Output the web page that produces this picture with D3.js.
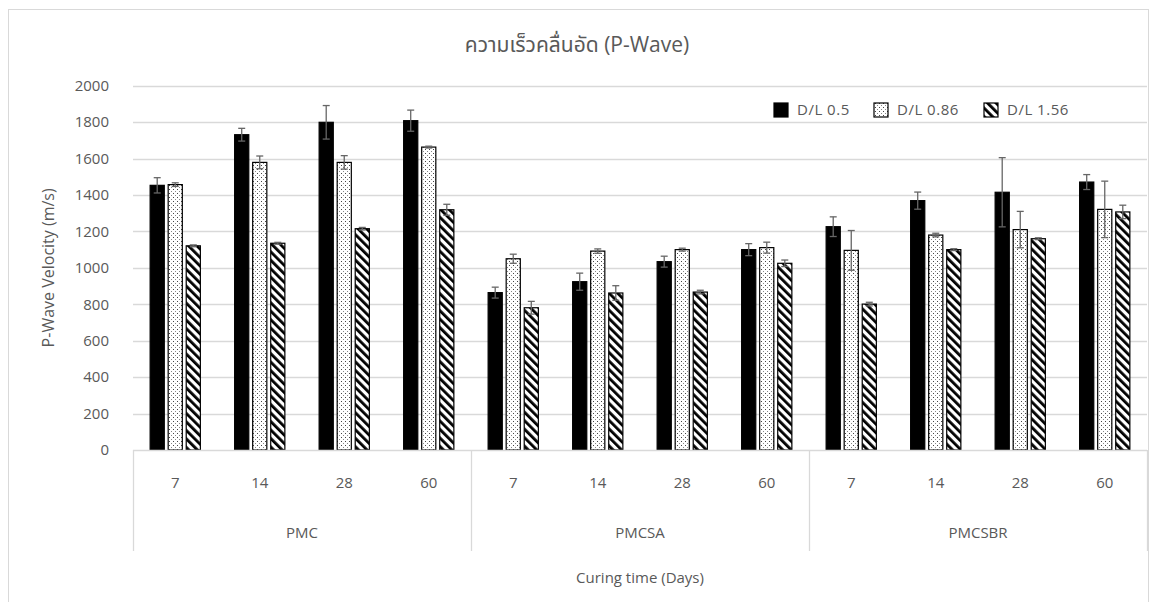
<!DOCTYPE html>
<html>
<head>
<meta charset="utf-8">
<script src="https://cdn.jsdelivr.net/npm/d3@7"></script>
<style>
  body { margin: 0; background: #fff; }
  text { font-family: "Open Sans", "Noto Sans", "Noto Sans Thai", sans-serif; fill: #595959; }
</style>
</head>
<body>
<svg id="chart" width="1155" height="602"></svg>
<script>
// data
const groups = ['PMC', 'PMCSA', 'PMCSBR'];
const days = ['7', '14', '28', '60'];
const seriesNames = ['D/L 0.5', 'D/L 0.86', 'D/L 1.56'];
const dl05    = [1453, 1731, 1799, 1808,  864,  924, 1034, 1100, 1226, 1369, 1415, 1471];
const dl05Err = [  42,   35,   92,   58,   30,   47,   30,   33,   54,   47,  190,   41];
const dl086    = [1457, 1579, 1579, 1663, 1050, 1092, 1100, 1111, 1096, 1180, 1210, 1321];
const dl086Err = [  10,   35,   37,    5,   25,   12,    8,   30,  109,   10,  100,  155];
const dl156    = [1121, 1135, 1215, 1319,  781,  862,  867, 1025,  801, 1100, 1160, 1307];
const dl156Err = [   5,    5,    7,   30,   35,   40,   10,   18,   10,    5,    5,   37];
const yTicks = [0, 200, 400, 600, 800, 1000, 1200, 1400, 1600, 1800, 2000];

const series = [
  {name: seriesNames[0], values: dl05, err: dl05Err, fill: '#000'},
  {name: seriesNames[1], values: dl086, err: dl086Err, fill: 'url(#dots)'},
  {name: seriesNames[2], values: dl156, err: dl156Err, fill: 'url(#hatch)'}
];

const cats = [];
groups.forEach((g) => days.forEach((d) => cats.push({key: g + '-' + d, group: g, day: d})));

const svg = d3.select('#chart');
const plotL = 133, plotR = 1147, plotT = 85.7, plotB = 450;

// patterns
const defs = svg.append('defs');
const dots = defs.append('pattern').attr('id', 'dots')
  .attr('patternUnits', 'userSpaceOnUse').attr('width', 4).attr('height', 4);
dots.append('rect').attr('width', 4).attr('height', 4).attr('fill', '#fff');
dots.append('rect').attr('x', 1).attr('y', 1).attr('width', 1).attr('height', 1).attr('fill', '#444');
dots.append('rect').attr('x', 3).attr('y', 3).attr('width', 1).attr('height', 1).attr('fill', '#888');

const hatch = defs.append('pattern').attr('id', 'hatch')
  .attr('patternUnits', 'userSpaceOnUse').attr('width', 6).attr('height', 6)
  .attr('patternTransform', 'rotate(-45)');
hatch.append('rect').attr('width', 6).attr('height', 6).attr('fill', '#fff');
hatch.append('rect').attr('width', 2.8).attr('height', 6).attr('fill', '#000');

// outer frame
svg.append('rect').attr('x', 8.5).attr('y', 9.5).attr('width', 1140).attr('height', 620)
  .attr('fill', 'none').attr('stroke', '#d9d9d9');

const x = d3.scaleBand().domain(cats.map(c => c.key)).range([plotL, plotR]);
const xs = d3.scaleBand().domain(seriesNames).range([0, x.bandwidth()])
  .paddingInner(0.216).paddingOuter(0.95);
const y = d3.scaleLinear().domain([0, 2000]).range([plotB, plotT]);

// gridlines
svg.append('g').selectAll('line').data(yTicks.slice(1)).join('line')
  .attr('x1', plotL).attr('x2', plotR)
  .attr('y1', d => Math.round(y(d)) + 0.5).attr('y2', d => Math.round(y(d)) + 0.5)
  .attr('stroke', '#d9d9d9').attr('stroke-width', 1.3);

// y axis labels
svg.append('g').selectAll('text').data(yTicks).join('text')
  .attr('x', 109).attr('y', d => y(d)).attr('dy', '0.35em')
  .attr('text-anchor', 'end').style('font-size', '15px').text(d => d);

// bars
series.forEach(s => {
  const g = svg.append('g');
  g.selectAll('rect').data(cats).join('rect')
    .attr('x', (c) => x(c.key) + xs(s.name))
    .attr('y', (c, i) => y(s.values[i]))
    .attr('width', xs.bandwidth())
    .attr('height', (c, i) => plotB - y(s.values[i]))
    .attr('fill', s.fill).attr('stroke', '#000').attr('stroke-width', 1.2);
  // error bars
  const eb = svg.append('g').attr('stroke', '#666').attr('stroke-width', 1.3);
  cats.forEach((c, i) => {
    const cx = x(c.key) + xs(s.name) + xs.bandwidth() / 2;
    const y1 = y(s.values[i] + s.err[i]), y2 = y(s.values[i] - s.err[i]);
    eb.append('line').attr('x1', cx).attr('x2', cx).attr('y1', y1).attr('y2', y2);
    eb.append('line').attr('x1', cx - 3.5).attr('x2', cx + 3.5).attr('y1', y1).attr('y2', y1);
    eb.append('line').attr('x1', cx - 3.5).attr('x2', cx + 3.5).attr('y1', y2).attr('y2', y2);
  });
});

// x axis line and group separators
svg.append('line').attr('x1', plotL).attr('x2', plotR).attr('y1', plotB + 0.5).attr('y2', plotB + 0.5)
  .attr('stroke', '#d9d9d9').attr('stroke-width', 1.3);
const sepX = groups.map((g) => x(g + '-7')).concat([plotR]);
svg.append('g').selectAll('line').data(sepX).join('line')
  .attr('x1', d => d + 0.5).attr('x2', d => d + 0.5).attr('y1', plotB).attr('y2', 551)
  .attr('stroke', '#d9d9d9').attr('stroke-width', 1.3);

svg.append('g').selectAll('text').data(cats).join('text')
  .attr('x', c => x(c.key) + x.bandwidth() / 2).attr('y', 483).attr('dy', '0.35em')
  .attr('text-anchor', 'middle').style('font-size', '15px').text(c => c.day);

svg.append('g').selectAll('text').data(groups).join('text')
  .attr('x', g => x(g + '-7') + x.bandwidth() * 2).attr('y', 533).attr('dy', '0.35em')
  .attr('text-anchor', 'middle').style('font-size', '15px').text(g => g);

// titles
svg.append('text').attr('x', 577).attr('y', 45).attr('dy', '0.35em').attr('text-anchor', 'middle')
  .style('font-size', '21px').text('ความเร็วคลื่นอัด (P-Wave)');
svg.append('text').attr('x', (plotL + plotR) / 2).attr('y', 578).attr('dy', '0.35em')
  .attr('text-anchor', 'middle').style('font-size', '15px').text('Curing time (Days)');
svg.append('text').attr('transform', 'translate(48,' + ((plotT + plotB) / 2) + ') rotate(-90)')
  .attr('dy', '0.35em').attr('text-anchor', 'middle').style('font-size', '16px')
  .text('P-Wave Velocity (m/s)');

// legend
const legX = [774, 874, 984];
const leg = svg.append('g').selectAll('g').data(series).join('g')
  .attr('transform', (d, i) => 'translate(' + legX[i] + ',110)');
leg.append('rect').attr('x', 0).attr('y', -7).attr('width', 14).attr('height', 14)
  .attr('fill', d => d.fill).attr('stroke', '#000').attr('stroke-width', 1.2);
leg.append('text').attr('x', 23).attr('dy', '0.35em').style('font-size', '15px')
  .style('letter-spacing', '0.5px').text(d => d.name);
</script>
</body>
</html>
